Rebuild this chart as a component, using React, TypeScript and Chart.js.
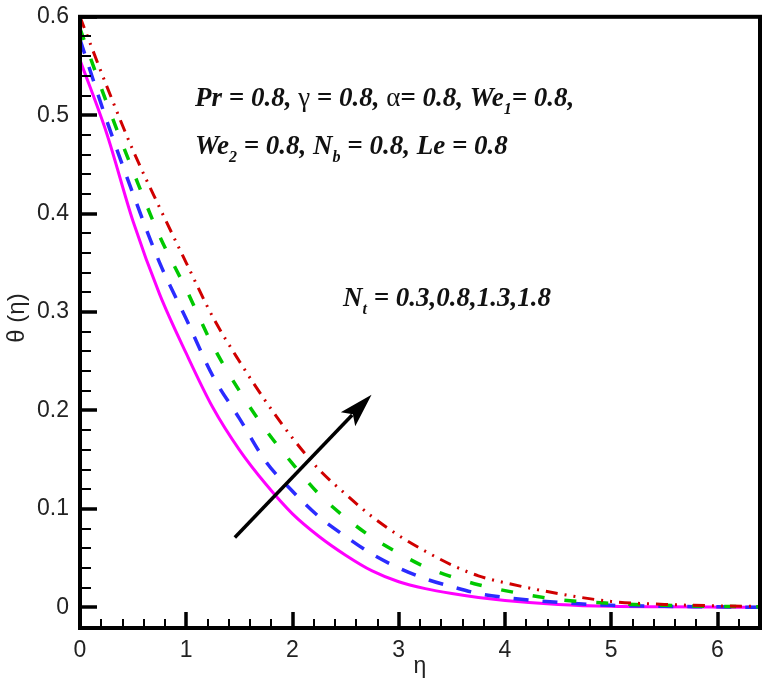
import React, { useEffect, useRef } from "react";
import { Chart, registerables } from "chart.js";

Chart.register(...registerables);

// ---- data ----
const etaValues = [0, 0.25, 0.5, 0.75, 1, 1.25, 1.5, 1.75, 2, 2.25, 2.5, 2.75, 3, 3.25, 3.5, 3.75, 4, 4.5, 5, 5.5, 6, 6.4];

const thetaNt18 = [0.6, 0.53, 0.464, 0.406, 0.35, 0.295, 0.25, 0.209, 0.172, 0.14, 0.115, 0.092, 0.073, 0.057, 0.043, 0.032, 0.025, 0.014, 0.006, 0.003, 0.0015, 0.001];
const thetaNt13 = [0.588, 0.513, 0.443, 0.377, 0.323, 0.266, 0.22, 0.18, 0.146, 0.115, 0.091, 0.071, 0.055, 0.041, 0.031, 0.023, 0.017, 0.008, 0.004, 0.002, 0.001, 0.0005];
const thetaNt08 = [0.577, 0.495, 0.42, 0.35, 0.293, 0.235, 0.192, 0.148, 0.118, 0.092, 0.072, 0.054, 0.04, 0.029, 0.021, 0.014, 0.01, 0.005, 0.002, 0.001, 0.0005, 0];
const thetaNt03 = [0.556, 0.482, 0.392, 0.318, 0.258, 0.203, 0.16, 0.125, 0.095, 0.072, 0.053, 0.037, 0.026, 0.019, 0.014, 0.01, 0.007, 0.003, 0.001, 0.0005, 0.0002, 0];

const seriesLabels = ["Nt = 1.8", "Nt = 1.3", "Nt = 0.8", "Nt = 0.3"];

const xTickValues = [0, 1, 2, 3, 4, 5, 6];
const yTickValues = [0, 0.1, 0.2, 0.3, 0.4, 0.5, 0.6];

const xMin = 0;
const xMax = 6.4;
const yMin = -0.021;
const yMax = 0.6;

// arrow (data coordinates): tail, head
const arrowTail = [1.457, 0.071];
const arrowHead = [2.744, 0.216];

type Seg = { t: string; sub?: boolean; plain?: boolean };

const annotLine1: Seg[] = [
  { t: "Pr = 0.8, " },
  { t: "γ", plain: true },
  { t: " = 0.8, " },
  { t: "α", plain: true },
  { t: "= 0.8, We" },
  { t: "1", sub: true },
  { t: "= 0.8," },
];
const annotLine2: Seg[] = [
  { t: "We" },
  { t: "2", sub: true },
  { t: " = 0.8, N" },
  { t: "b", sub: true },
  { t: " = 0.8, Le = 0.8" },
];
const annotLine3: Seg[] = [
  { t: "N" },
  { t: "t", sub: true },
  { t: " = 0.3,0.8,1.3,1.8" },
];

const xTitle = "η";
const yTitle = "θ (η)";

function drawRich(ctx: CanvasRenderingContext2D, segs: Seg[], x: number, y: number, size: number) {
  let cx = x;
  ctx.textBaseline = "alphabetic";
  ctx.textAlign = "left";
  ctx.fillStyle = "#111";
  for (const s of segs) {
    const fs = s.sub ? Math.round(size * 0.6) : size;
    ctx.font = `${s.plain ? "" : "italic bold "}${fs}px "Liberation Serif"`;
    ctx.fillText(s.t, cx, s.sub ? y + size * 0.28 : y);
    cx += ctx.measureText(s.t).width;
  }
}

const decorPlugin = {
  id: "decor",
  afterDraw(chart: any) {
    const { ctx, chartArea } = chart;
    const xs = chart.scales.x;
    const ys = chart.scales.y;
    const { left, right, top, bottom } = chartArea;
    ctx.save();
    ctx.strokeStyle = "#000";
    ctx.lineCap = "butt";

    // y ticks (inward on left side)
    for (let i = 0; i <= 30; i++) {
      const v = i * 0.02;
      const py = Math.round(ys.getPixelForValue(v));
      const major = i % 5 === 0;
      ctx.lineWidth = major ? 3.5 : 2;
      ctx.beginPath();
      ctx.moveTo(left, py);
      ctx.lineTo(left + (major ? 17 : 11), py);
      ctx.stroke();
    }
    // x ticks (inward on bottom)
    for (let i = 0; i <= 32; i++) {
      const v = i * 0.2;
      const px = Math.round(xs.getPixelForValue(v));
      const major = i % 5 === 0;
      ctx.lineWidth = major ? 3.5 : 2;
      ctx.beginPath();
      ctx.moveTo(px, bottom);
      ctx.lineTo(px, bottom - (major ? 16 : 9));
      ctx.stroke();
    }

    // frame
    ctx.lineWidth = 4;
    ctx.strokeRect(left, top, right - left, bottom - top);

    // arrow
    const x0 = xs.getPixelForValue(arrowTail[0]);
    const y0 = ys.getPixelForValue(arrowTail[1]);
    const x1 = xs.getPixelForValue(arrowHead[0]);
    const y1 = ys.getPixelForValue(arrowHead[1]);
    const ang = Math.atan2(y1 - y0, x1 - x0);
    const headLen = 34;
    const headW = 10;
    const bx = x1 - headLen * Math.cos(ang);
    const by = y1 - headLen * Math.sin(ang);
    ctx.lineWidth = 3.5;
    ctx.beginPath();
    ctx.moveTo(x0, y0);
    ctx.lineTo(bx + 6 * Math.cos(ang), by + 6 * Math.sin(ang));
    ctx.stroke();
    const nx = -Math.sin(ang);
    const ny = Math.cos(ang);
    ctx.fillStyle = "#000";
    ctx.beginPath();
    ctx.moveTo(x1, y1);
    ctx.lineTo(bx + nx * headW, by + ny * headW);
    ctx.lineTo(bx + 7 * Math.cos(ang), by + 7 * Math.sin(ang));
    ctx.lineTo(bx - nx * headW, by - ny * headW);
    ctx.closePath();
    ctx.fill();

    // annotations
    drawRich(ctx, annotLine1, 195, 106, 27);
    drawRich(ctx, annotLine2, 195, 154, 27);
    drawRich(ctx, annotLine3, 343, 306, 27);

    // axis titles
    ctx.fillStyle = "#222";
    ctx.font = '23px "Liberation Sans"';
    ctx.textAlign = "center";
    ctx.textBaseline = "middle";
    ctx.fillText(xTitle, (left + right) / 2, 667);
    ctx.save();
    ctx.translate(17, 318);
    ctx.rotate(-Math.PI / 2);
    ctx.font = '24px "Liberation Sans"';
    ctx.fillText(yTitle, 0, 0);
    ctx.restore();

    ctx.restore();
  },
};

function makeData(vals: number[]) {
  return etaValues.map((x, i) => ({ x, y: vals[i] }));
}

export default function App() {
  const canvasRef = useRef<HTMLCanvasElement | null>(null);

  useEffect(() => {
    if (!canvasRef.current) return;
    const chart = new Chart(canvasRef.current, {
      type: "line",
      data: {
        datasets: [
          {
            label: seriesLabels[0],
            data: makeData(thetaNt18),
            borderColor: "#d00000",
            borderWidth: 3,
            borderDash: [12, 7, 2, 7, 2, 7],
            pointRadius: 0,
            cubicInterpolationMode: "monotone",
            fill: false,
          },
          {
            label: seriesLabels[1],
            data: makeData(thetaNt13),
            borderColor: "#00c800",
            borderWidth: 3.5,
            borderDash: [12, 20],
            pointRadius: 0,
            cubicInterpolationMode: "monotone",
            fill: false,
          },
          {
            label: seriesLabels[2],
            data: makeData(thetaNt08),
            borderColor: "#2b2bff",
            borderWidth: 3.5,
            borderDash: [15, 14],
            pointRadius: 0,
            cubicInterpolationMode: "monotone",
            fill: false,
          },
          {
            label: seriesLabels[3],
            data: makeData(thetaNt03),
            borderColor: "#ff00ff",
            borderWidth: 3,
            pointRadius: 0,
            cubicInterpolationMode: "monotone",
            fill: false,
          },
        ],
      },
      options: {
        animation: false,
        responsive: false,
        maintainAspectRatio: false,
        layout: { padding: { top: 13, right: 2, left: 0, bottom: 0 } },
        plugins: {
          legend: { display: false },
          tooltip: { enabled: false },
          title: { display: false },
        },
        scales: {
          x: {
            type: "linear",
            min: xMin,
            max: xMax,
            grid: { display: false },
            border: { display: false },
            afterBuildTicks: (scale: any) => {
              scale.ticks = xTickValues.map((v) => ({ value: v }));
            },
            afterFit: (scale: any) => {
              scale.height = 62;
            },
            ticks: {
              autoSkip: false,
              maxRotation: 0,
              padding: 1,
              color: "#222",
              font: { family: "Liberation Sans", size: 23 },
              callback: (v: any) => String(v),
            },
          },
          y: {
            type: "linear",
            min: yMin,
            max: yMax,
            grid: { display: false },
            border: { display: false },
            afterBuildTicks: (scale: any) => {
              scale.ticks = yTickValues.map((v) => ({ value: v }));
            },
            afterFit: (scale: any) => {
              scale.width = 80;
            },
            ticks: {
              autoSkip: false,
              padding: 3,
              color: "#222",
              font: { family: "Liberation Sans", size: 23 },
              callback: (v: any) => (Number(v) === 0 ? "0" : Number(v).toFixed(1)),
            },
          },
        },
      },
      plugins: [decorPlugin],
    });
    return () => chart.destroy();
  }, []);

  return (
    <div style={{ position: "absolute", left: 0, top: 0, width: 762, height: 690, background: "#fff" }}>
      <canvas ref={canvasRef} width={762} height={690} />
    </div>
  );
}
